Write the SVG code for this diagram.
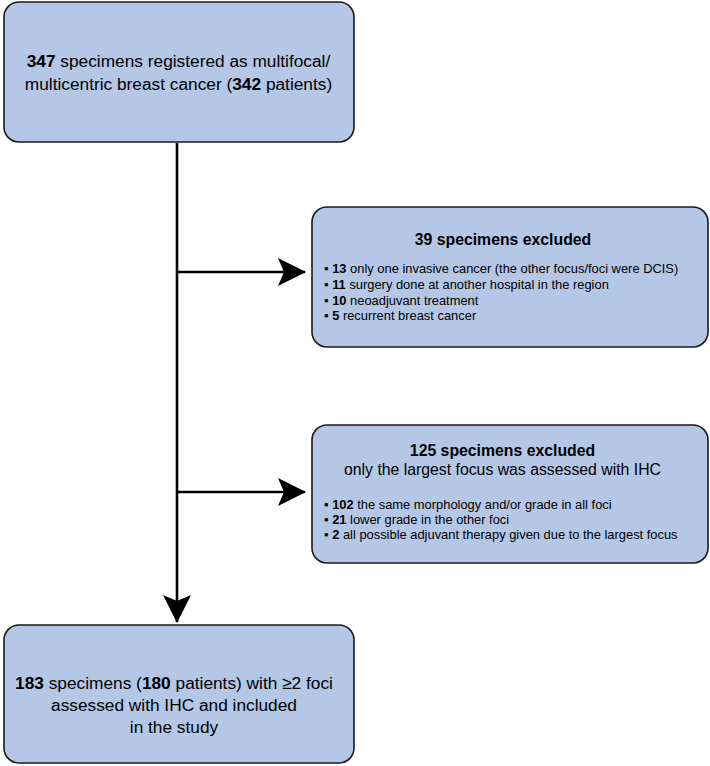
<svg xmlns="http://www.w3.org/2000/svg" width="710" height="766" viewBox="0 0 710 766">
<style>
.box{fill:#b4c7e7;stroke:#1a1a1a;stroke-width:1.6}
text{font-family:"Liberation Sans",Arial,sans-serif;fill:#000}
.m{font-size:17.3px}
.t{font-size:15.8px}
.b{font-size:12.9px}
.bd{font-weight:bold}
.c{stroke:#000;stroke-width:2.6;fill:none}
</style>
<defs>
<marker id="ah" markerUnits="userSpaceOnUse" markerWidth="28" markerHeight="28" viewBox="0 0 28 28" refX="27" refY="14" orient="auto">
<path d="M0,0 L28,14 L0,28 L6,14 Z" fill="#000"/>
</marker>
</defs>
<g id="connectors">
<line class="c" x1="177" y1="143" x2="177" y2="622" marker-end="url(#ah)"/>
<line class="c" x1="177" y1="272" x2="305" y2="272" marker-end="url(#ah)"/>
<line class="c" x1="177" y1="492" x2="305" y2="492" marker-end="url(#ah)"/>
</g>
<g id="n1">
<rect class="box" x="4" y="2" width="350" height="140" rx="15"/>
<text class="m" x="178.5" y="67" text-anchor="middle"><tspan class="bd">347</tspan> specimens registered as multifocal/</text>
<text class="m" x="178.5" y="90" text-anchor="middle">multicentric breast cancer (<tspan class="bd">342</tspan> patients)</text>
</g>
<g id="n2">
<rect class="box" x="312" y="207" width="396" height="140" rx="15"/>
<text class="t bd" x="503" y="245" text-anchor="middle">39 specimens excluded</text>
<text class="b" x="324" y="273">▪ <tspan class="bd">13</tspan> only one invasive cancer (the other focus/foci were DCIS)</text>
<text class="b" x="324" y="289">▪ <tspan class="bd">11</tspan> surgery done at another hospital in the region</text>
<text class="b" x="324" y="305">▪ <tspan class="bd">10</tspan> neoadjuvant treatment</text>
<text class="b" x="324" y="320">▪ <tspan class="bd">5</tspan> recurrent breast cancer</text>
</g>
<g id="n3">
<rect class="box" x="312" y="425" width="396" height="138" rx="15"/>
<text class="t bd" x="502.5" y="456" text-anchor="middle">125 specimens excluded</text>
<text class="t" x="502.5" y="475" text-anchor="middle">only the largest focus was assessed with IHC</text>
<text class="b" x="324" y="509">▪ <tspan class="bd">102</tspan> the same morphology and/or grade in all foci</text>
<text class="b" x="324" y="524">▪ <tspan class="bd">21</tspan> lower grade in the other foci</text>
<text class="b" x="324" y="539">▪ <tspan class="bd">2</tspan> all possible adjuvant therapy given due to the largest focus</text>
</g>
<g id="n4">
<rect class="box" x="4" y="625" width="350" height="138" rx="15"/>
<text class="m" x="174" y="689" text-anchor="middle"><tspan class="bd">183</tspan> specimens (<tspan class="bd">180</tspan> patients) with ≥2 foci</text>
<text class="m" x="174" y="711" text-anchor="middle">assessed with IHC and included</text>
<text class="m" x="174" y="733" text-anchor="middle">in the study</text>
</g>
</svg>
